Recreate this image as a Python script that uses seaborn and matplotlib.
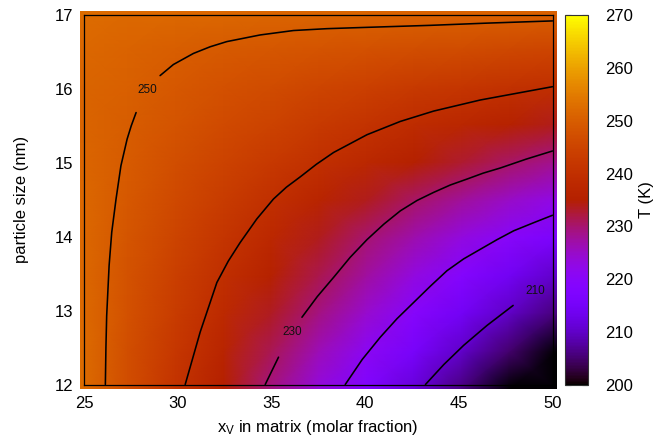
import numpy as np
import pandas as pd
import matplotlib
matplotlib.use("Agg")
import matplotlib.pyplot as plt
import seaborn as sns

# grid of T (K)
x_frac = [25, 27.5, 30, 32.5, 35, 37.5, 40, 42.5, 45, 47.5, 50]
sizes = [12, 12.5, 13, 13.5, 14, 14.5, 15, 15.5, 16, 16.5, 17]
t_12 = [252.7, 246.8, 240.9, 235.1, 229.2, 223.4, 217.5, 211.7, 205.8, 199.5, 192.0]
t_12_5 = [252.5, 247.2, 242.0, 236.7, 231.4, 226.1, 220.8, 215.6, 210.3, 205.0, 199.0]
t_13 = [252.3, 247.6, 243.0, 238.3, 233.6, 229.0, 224.4, 219.4, 214.7, 210.1, 205.5]
t_13_5 = [252.2, 248.0, 243.9, 239.8, 235.7, 231.7, 227.4, 223.0, 218.6, 214.4, 210.2]
t_14 = [252.0, 248.5, 245.0, 241.5, 237.8, 233.9, 230.0, 226.6, 223.2, 219.8, 216.5]
t_14_5 = [252.0, 249.0, 246.1, 243.1, 240.1, 236.9, 233.7, 230.6, 227.8, 225.1, 222.4]
t_15 = [251.5, 249.5, 247.1, 244.7, 242.4, 240.0, 237.6, 235.3, 232.9, 230.5, 228.2]
t_15_5 = [251.3, 250.0, 248.2, 246.4, 244.6, 242.8, 240.9, 239.1, 237.4, 235.6, 233.9]
t_16 = [251.3, 250.4, 249.1, 247.8, 246.5, 245.3, 244.1, 242.9, 241.8, 240.7, 239.7]
t_16_5 = [251.8, 251.0, 250.3, 249.4, 248.8, 248.2, 247.6, 247.1, 246.5, 245.9, 245.3]
t_17 = [252.5, 252.2, 252.0, 251.8, 251.6, 251.4, 251.3, 251.1, 251.0, 250.9, 250.8]

# contour lines (x, size), split where the labels sit
c250_low_x = [26.14, 26.17, 26.21, 26.34, 26.48, 26.71, 26.97, 27.30, 27.52, 27.78]
c250_low_y = [12.0, 12.5, 12.93, 13.61, 14.06, 14.51, 14.96, 15.32, 15.50, 15.68]
c250_up_x = [29.06, 29.77, 30.84, 31.73, 32.62, 34.40, 36.18, 37.96, 39.74, 43.48, 46.50, 50.0]
c250_up_y = [16.18, 16.33, 16.48, 16.57, 16.64, 16.73, 16.79, 16.815, 16.83, 16.86, 16.89, 16.92]
c240_x = [30.40, 31.20, 32.09, 32.70, 33.33, 34.22, 35.11, 35.80, 36.54, 37.40, 38.32,
          40.10, 41.88, 43.66, 46.15, 50.0]
c240_y = [12.0, 12.71, 13.38, 13.67, 13.92, 14.24, 14.51, 14.67, 14.81, 14.98, 15.14,
          15.38, 15.56, 15.70, 15.85, 16.03]
c230_low_x = [34.67, 35.38]
c230_low_y = [12.0, 12.37]
c230_up_x = [36.63, 37.45, 38.32, 39.20, 40.10, 41.00, 41.88, 42.77, 43.66, 44.55, 45.44,
             46.30, 47.22, 48.60, 50.0]
c230_up_y = [12.91, 13.19, 13.45, 13.72, 13.96, 14.17, 14.35, 14.49, 14.60, 14.70, 14.78,
             14.86, 14.93, 15.05, 15.16]
c220_x = [38.94, 39.85, 40.81, 41.70, 42.59, 43.48, 44.37, 45.26, 46.15, 47.04, 47.93, 49.0, 50.0]
c220_y = [12.0, 12.34, 12.64, 12.89, 13.11, 13.33, 13.54, 13.70, 13.83, 13.96, 14.08, 14.19, 14.29]
c210_x = [43.22, 44.20, 45.26, 46.51, 47.90]
c210_y = [12.0, 12.27, 12.53, 12.80, 13.07]

label_text = ["250", "230", "210"]
label_x = [28.4, 36.1, 49.09]
label_y = [15.99, 12.71, 13.26]

sns.set_style("white")
plt.rcParams["font.family"] = ["Liberation Sans", "DejaVu Sans"]
plt.rcParams["mathtext.fontset"] = "custom"
plt.rcParams["mathtext.rm"] = "Liberation Sans"
plt.rcParams["mathtext.it"] = "Liberation Sans"
for key in ["text.color", "axes.labelcolor", "xtick.color", "ytick.color"]:
    plt.rcParams[key] = "black"

temps = np.array([t_12, t_12_5, t_13, t_13_5, t_14, t_14_5, t_15, t_15_5, t_16, t_16_5, t_17])

fig = plt.figure(figsize=(6.6, 4.44), dpi=100)

# colour surface, a bit larger than the frame like the original
bg = fig.add_axes([80 / 660, 55 / 444, 477 / 660, 378 / 444])
mesh = bg.pcolormesh(x_frac, sizes, temps, shading="gouraud", cmap="gnuplot", vmin=200, vmax=270)
bg.set_xlim(25, 50)
bg.set_ylim(12, 17)
bg.axis("off")

ax = fig.add_axes([84 / 660, 59.5 / 444, 468.5 / 660, 369.5 / 444])
ax.set_facecolor("none")

pieces = [
    (c250_low_x, c250_low_y), (c250_up_x, c250_up_y), (c240_x, c240_y),
    (c230_low_x, c230_low_y), (c230_up_x, c230_up_y), (c220_x, c220_y), (c210_x, c210_y),
]
rows = []
for i, (px, py) in enumerate(pieces):
    for a, b in zip(px, py):
        rows.append((i, a, b))
lines_df = pd.DataFrame(rows, columns=["piece", "x", "size"])
sns.lineplot(data=lines_df, x="x", y="size", units="piece", estimator=None, sort=False,
             color="black", linewidth=1.15, ax=ax)

for t, lx, ly in zip(label_text, label_x, label_y):
    ax.text(lx, ly, t, fontsize=8.5, ha="center", va="center", color="#111111")

ax.set_xlim(25, 50)
ax.set_ylim(12, 17)
ax.set_xticks(range(25, 51, 5))
ax.set_yticks(range(12, 18))
ax.tick_params(length=0, labelsize=12, pad=8)
for s in ax.spines.values():
    s.set_visible(True)
    s.set_color("black")
    s.set_linewidth(0.9)
ax.set_xlabel(r"x$_{\rm V}$ in matrix (molar fraction)", fontsize=12)
ax.set_ylabel("particle size (nm)", fontsize=12)
ax.xaxis.set_label_coords(0.5, -0.09)
ax.yaxis.set_label_coords(-0.118, 0.5)

cax = fig.add_axes([564.5 / 660, 59 / 444, 23.5 / 660, 370 / 444])
cbar = fig.colorbar(mesh, cax=cax)
cbar.set_ticks(range(200, 271, 10))
cbar.outline.set_edgecolor("#333333")
cbar.outline.set_linewidth(0.8)
cax.yaxis.set_ticks_position("both")
cax.tick_params(direction="in", length=4, width=0.8, color="#222222", labelsize=12, pad=12)
cax.yaxis.set_tick_params(labelleft=False, labelright=True)
fig.text(646 / 660, 1 - 200 / 444, "T (K)", rotation=90, ha="center", va="center", fontsize=12)

fig.savefig("out.png", dpi=100)
